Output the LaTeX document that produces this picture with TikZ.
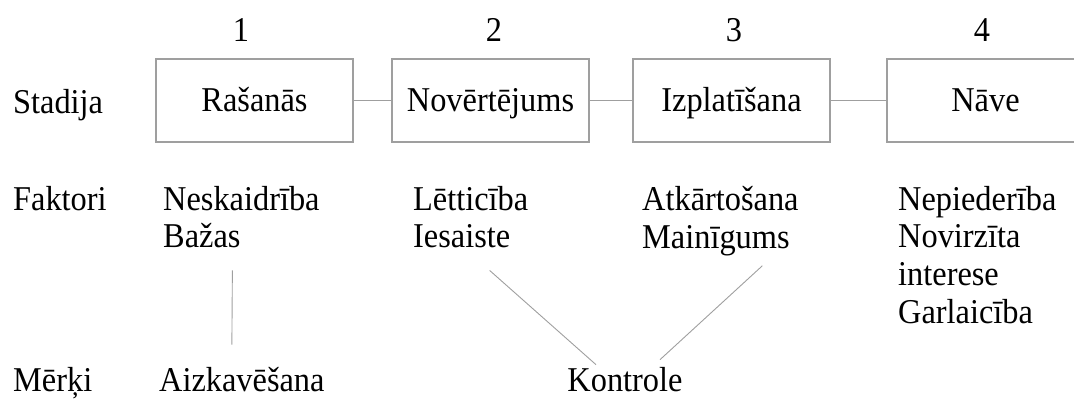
\documentclass[tikz,border=0pt]{standalone}
\usepackage{fontspec}
\setmainfont[FakeStretch=0.93]{Liberation Serif}
\usepackage{tikz}

\begin{document}
\begin{tikzpicture}[x=1bp,y=-1bp,font=\fontsize{34.8bp}{37.6bp}\selectfont,
  stage/.style={draw=gray!75,line width=1.2bp,minimum width=197bp,minimum height=83bp,text height=22bp,text depth=0pt},
  txt/.style={inner sep=0pt,align=left},
  link/.style={draw=gray!75,line width=1.2bp}]
\useasboundingbox (0,0) rectangle (1074,401);
\node [anchor=base] (n1) at (241,41) {1};
\node [anchor=base] (n2) at (494,41) {2};
\node [anchor=base] (n3) at (734,41) {3};
\node [anchor=base] (n4) at (982,41) {4};
\node [txt,anchor=base west] (stadija) at (13,113) {Stadija};
\node [txt,anchor=base west] (faktori) at (13,210) {Faktori};
\node [txt,anchor=base west] (merki) at (13,391) {Mērķi};
\node [stage] (b1) at (254.5,100.5) {Rašanās};
\node [stage] (b2) at (490.5,100.5) {Novērtējums};
\node [stage] (b3) at (731.5,100.5) {Izplatīšana};
\node [stage] (b4) at (985.5,100.5) {Nāve};
\draw [link] (b1) -- (b2);
\draw [link] (b2) -- (b3);
\draw [link] (b3) -- (b4);
\node [txt,anchor=north west] (f1) at (163,186) {Neskaidrība\\Bažas};
\node [txt,anchor=north west] (f2) at (413,186) {Lētticība\\Iesaiste};
\node [txt,anchor=north west] (f3) at (642,186) {Atkārtošana\\Mainīgums};
\node [txt,anchor=north west] (f4) at (898,186) {Nepiederība\\Novirzīta\\interese\\Garlaicība};
\node [txt,anchor=base west] (g1) at (159,391) {Aizkavēšana};
\node [txt,anchor=base] (g2) at (625,391) {Kontrole};
\draw [link,line width=0.9bp] ([shift={(-9,22)}]f1.south) -- ([shift={(-10,-22)}]g1.north);
\draw [link,line width=0.9bp] ([shift={(19,22)}]f2.south) -- ([shift={(-29,-2)}]g2.north);
\draw [link,line width=0.9bp] ([shift={(42,10)}]f3.south) -- ([shift={(35,-7)}]g2.north);
\end{tikzpicture}
\end{document}
